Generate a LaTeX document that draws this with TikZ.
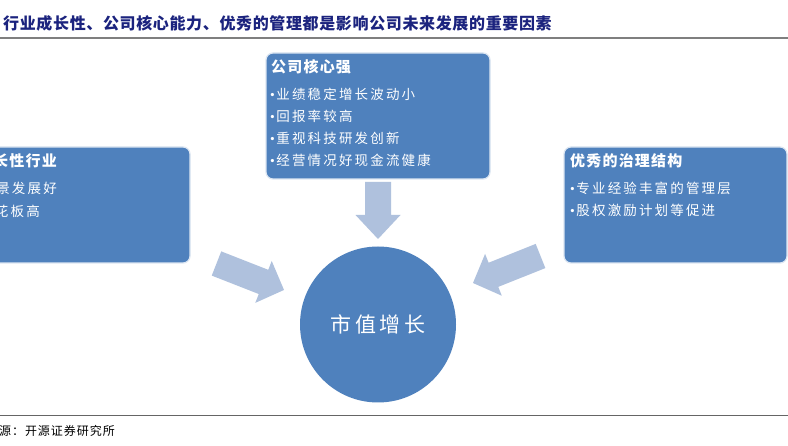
\documentclass[tikz,border=0pt]{standalone}
\usepackage{fontspec}
\setmainfont{Noto Sans CJK SC}
\newfontfamily\bulletfont{Liberation Serif}
\definecolor{boxblue}{HTML}{4F81BD}
\definecolor{arrowblue}{HTML}{AFC1DD}
\definecolor{titleblue}{HTML}{1B237E}
\definecolor{rulegray}{HTML}{7F7F7F}
\newcommand\bul{{\bulletfont •}\hspace{1.5pt}}
\newcommand\blockarrow[5]{%
  \fill[arrowblue, shift={(#1,#2)}, rotate=#3]
    (0,-13) -- ({#4-#5},-13) -- ({#4-#5},-22.5) -- (#4,0) --
    ({#4-#5},22.5) -- ({#4-#5},13) -- (0,13) -- cycle;}
\tikzset{
  box/.style={rectangle, rounded corners=7pt, fill=boxblue,
    draw=white!80!boxblue, line width=1.2pt, inner sep=0pt},
  head/.style={anchor=west, inner sep=0pt, text=white,
    font={\fontsize{15}{17}\selectfont\bfseries\addfontfeature{LetterSpace=8}}},
  item/.style={anchor=west, inner sep=0pt, text=white,
    font={\fontsize{13.5}{16}\selectfont\addfontfeature{LetterSpace=16}}},
}
\begin{document}
\begin{tikzpicture}[x=1pt, y=1pt, yscale=-1]
\clip (0,0) rectangle (788,446);
\useasboundingbox (0,0) rectangle (788,446);
\fill[white] (0,0) rectangle (788,446);

% title and rules
\node[anchor=west, inner sep=0pt, text=titleblue,
  font={\fontsize{16}{18}\selectfont\bfseries\addfontfeature{LetterSpace=4}}]
  (title) at (3,23) {行业成长性、公司核心能力、优秀的管理都是影响公司未来发展的重要因素};
\draw[rulegray, line width=1.6pt] (0,38) -- (788,38);
\draw[rulegray!80!black, line width=0.8pt] (0,415) -- (788,415);
\node[anchor=east, inner sep=0pt,
  font={\fontsize{12}{14}\selectfont\addfontfeature{LetterSpace=8}}]
  (src) at (115,431) {资料来源：开源证券研究所};

% boxes
\node[box, minimum width=240, minimum height=116] (ind) at (70,205) {};
\node[box, minimum width=224, minimum height=126] (core) at (378,116) {};
\node[box, minimum width=223, minimum height=116] (gov) at (675.5,205) {};

% left box texts (cut by the page edge)
\node[head, anchor=east] (indh) at (57,161) {高成长性行业};
\node[item, anchor=east] (ind1) at (57,188) {\bul 行业前景发展好};
\node[item, anchor=east] (ind2) at (40,211) {\bul 行业天花板高};

% top box texts
\node[head] (coreh) at (271,67) {公司核心强};
\node[item] (core1) at (270,94) {\bul 业绩稳定增长波动小};
\node[item] (core2) at (270,116) {\bul 回报率较高};
\node[item] (core3) at (270,138) {\bul 重视科技研发创新};
\node[item] (core4) at (270,160) {\bul 经营情况好现金流健康};

% right box texts
\node[head] (govh) at (570,161) {优秀的治理结构};
\node[item] (gov1) at (570,188) {\bul 专业经验丰富的管理层};
\node[item] (gov2) at (570,210) {\bul 股权激励计划等促进};

% circle
\node[circle, fill=boxblue, minimum size=156, inner sep=0pt, text=white,
  font={\fontsize{21}{24}\selectfont\addfontfeature{LetterSpace=18}}]
  (mv) at (378,324.5) {市值增长};

% block arrows
\blockarrow{378}{182}{90}{57}{24}
\blockarrow{216.5}{263.5}{21.4}{72.5}{22}
\blockarrow{540.5}{256}{158.2}{72.7}{22}
\end{tikzpicture}
\end{document}
